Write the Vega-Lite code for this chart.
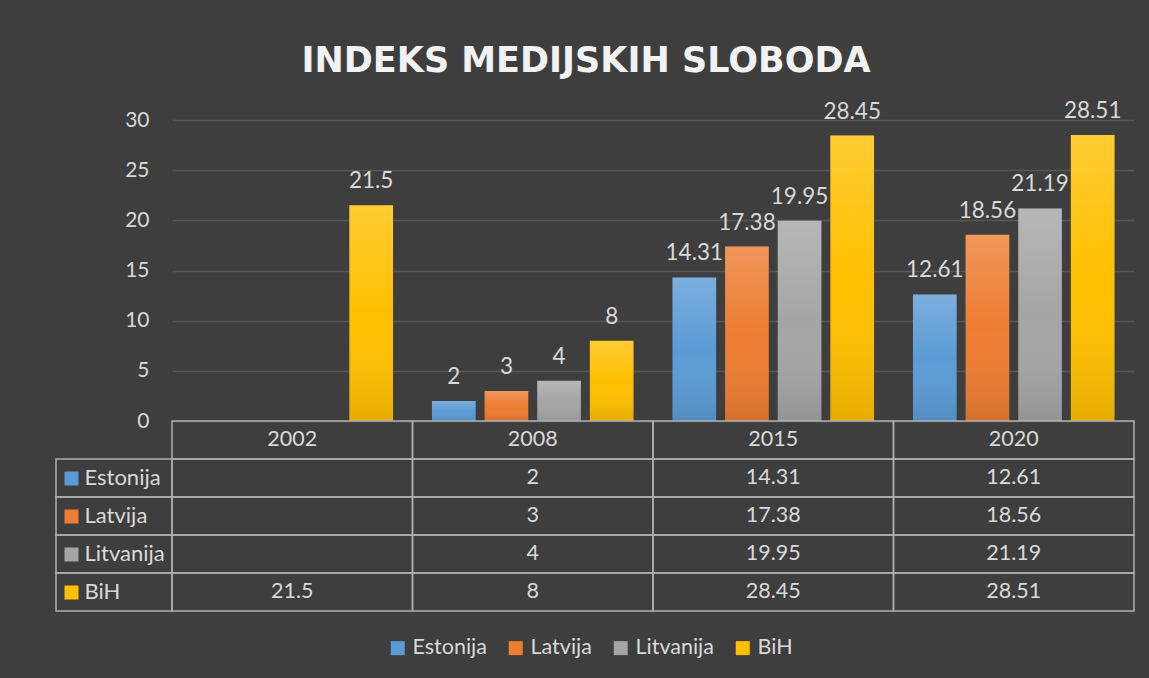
{
  "$schema": "https://vega.github.io/schema/vega-lite/v6.json",
  "background": "#3e3e3e",
  "padding": {"left": 55, "right": 15, "top": 43, "bottom": 24},
  "title": {
    "text": "INDEKS MEDIJSKIH SLOBODA",
    "font": "DejaVu Sans",
    "fontWeight": "bold",
    "fontSize": 35,
    "color": "#f2f2f2",
    "anchor": "middle",
    "dx": -9,
    "offset": 21
  },
  "datasets": {
    "bars": [
      {"year": "2002", "country": "Estonija", "value": null},
      {"year": "2002", "country": "Latvija", "value": null},
      {"year": "2002", "country": "Litvanija", "value": null},
      {"year": "2002", "country": "BiH", "value": 21.5},
      {"year": "2008", "country": "Estonija", "value": 2},
      {"year": "2008", "country": "Latvija", "value": 3},
      {"year": "2008", "country": "Litvanija", "value": 4},
      {"year": "2008", "country": "BiH", "value": 8},
      {"year": "2015", "country": "Estonija", "value": 14.31},
      {"year": "2015", "country": "Latvija", "value": 17.38},
      {"year": "2015", "country": "Litvanija", "value": 19.95},
      {"year": "2015", "country": "BiH", "value": 28.45},
      {"year": "2020", "country": "Estonija", "value": 12.61},
      {"year": "2020", "country": "Latvija", "value": 18.56},
      {"year": "2020", "country": "Litvanija", "value": 21.19},
      {"year": "2020", "country": "BiH", "value": 28.51}
    ],
    "years": [
      {"year": "2002"}, {"year": "2008"}, {"year": "2015"}, {"year": "2020"}
    ],
    "countries": [
      {"country": "Estonija"}, {"country": "Latvija"}, {"country": "Litvanija"}, {"country": "BiH"}
    ]
  },
  "bounds": "flush",
  "columns": 2,
  "spacing": 0,
  "align": "each",
  "concat": [
    {
      "width": 116,
      "height": 301,
      "data": {"name": "years"},
      "mark": {"type": "point", "opacity": 0},
      "encoding": {}
    },
    {
      "width": 962,
      "height": 301,
      "data": {"name": "bars"},
      "encoding": {
        "x": {"field": "year", "type": "nominal", "scale": {"domain": ["2002", "2008", "2015", "2020"], "paddingInner": 0, "paddingOuter": 0}, "axis": null},
        "xOffset": {"field": "country", "type": "nominal", "scale": {"domain": ["Estonija", "Latvija", "Litvanija", "BiH"], "paddingInner": 0.17, "paddingOuter": 0.37}},
        "y": {
          "field": "value", "type": "quantitative",
          "scale": {"domain": [0, 30], "nice": false},
          "axis": {"values": [0, 5, 10, 15, 20, 25, 30], "title": null, "domain": false, "ticks": false, "labelPadding": 23, "labelColor": "#d9d9d9", "labelFont": "Lato", "labelFontSize": 21, "gridColor": "#575757", "gridWidth": 1.5}
        }
      },
      "layer": [
        {
          "mark": {"type": "bar"},
          "encoding": {
            "color": {
              "field": "country", "type": "nominal",
              "scale": {"domain": ["Estonija", "Latvija", "Litvanija", "BiH"], "range": ["#5b9bd5", "#ed7d31", "#a5a5a5", "#ffc000"]},
              "legend": {
                "orient": "none", "direction": "horizontal", "legendX": 331, "legendY": 517,
                "title": null, "symbolType": "square", "symbolSize": 196, "symbolStrokeWidth": 0,
                "labelFont": "Lato", "labelFontSize": 21.5, "labelColor": "#d9d9d9", "labelOffset": 4,
                "columnPadding": 18, "padding": 0
              }
            }
          }
        },
        {
          "mark": {
            "type": "bar",
            "color": {"gradient": "linear", "x1": 0, "y1": 0, "x2": 0, "y2": 1, "stops": [
              {"offset": 0, "color": "rgba(255,255,255,0.2)"},
              {"offset": 0.5, "color": "rgba(255,255,255,0)"},
              {"offset": 1, "color": "rgba(0,0,0,0.1)"}
            ]}
          }
        },
        {
          "mark": {"type": "text", "baseline": "alphabetic", "dy": -17, "font": "Lato", "fontSize": 22.5, "color": "#d9d9d9"},
          "encoding": {"text": {"field": "value", "type": "quantitative"}}
        }
      ]
    },
    {
      "width": 116,
      "height": 190,
      "data": {"name": "countries"},
      "mark": {"type": "rect", "fillOpacity": 0, "stroke": "#b0b0b0", "strokeWidth": 1.5},
      "encoding": {
        "y": {
          "field": "country", "type": "nominal",
          "scale": {"domain": ["hdr", "Estonija", "Latvija", "Litvanija", "BiH"], "paddingInner": 0, "paddingOuter": 0},
          "axis": {
            "orient": "left", "offset": -22, "values": ["Estonija", "Latvija", "Litvanija", "BiH"],
            "title": null, "domain": false, "grid": false, "ticks": true, "tickSize": 14, "tickWidth": 14, "tickCap": "butt",
            "bandPosition": 0.5, "labelAlign": "left", "labelPadding": -20, "labelColor": "#d9d9d9", "labelFont": "Lato", "labelFontSize": 22,
            "tickColor": {
              "condition": [
                {"test": "datum.value === 'Estonija'", "value": "#5b9bd5"},
                {"test": "datum.value === 'Latvija'", "value": "#ed7d31"},
                {"test": "datum.value === 'Litvanija'", "value": "#a5a5a5"}
              ],
              "value": "#ffc000"
            }
          }
        }
      }
    },
    {
      "width": 962,
      "height": 190,
      "encoding": {
        "x": {"field": "year", "type": "nominal", "scale": {"domain": ["2002", "2008", "2015", "2020"], "paddingInner": 0, "paddingOuter": 0}, "axis": null}
      },
      "layer": [
        {
          "data": {"name": "bars"},
          "mark": {"type": "rect", "fillOpacity": 0, "stroke": "#b0b0b0", "strokeWidth": 1.5},
          "encoding": {"y": {"field": "country", "type": "nominal", "scale": {"domain": ["hdr", "Estonija", "Latvija", "Litvanija", "BiH"], "paddingInner": 0, "paddingOuter": 0}, "axis": null}}
        },
        {
          "data": {"name": "years"},
          "mark": {"type": "rect", "fillOpacity": 0, "stroke": "#b0b0b0", "strokeWidth": 1.5},
          "encoding": {"y": {"datum": "hdr", "type": "nominal"}}
        },
        {
          "data": {"name": "bars"},
          "transform": [{"filter": "datum.value != null"}],
          "mark": {"type": "text", "font": "Lato", "fontSize": 21.5, "color": "#d9d9d9"},
          "encoding": {"y": {"field": "country", "type": "nominal"}, "text": {"field": "value", "type": "quantitative"}}
        },
        {
          "data": {"name": "years"},
          "mark": {"type": "text", "font": "Lato", "fontSize": 21.5, "color": "#d9d9d9"},
          "encoding": {"y": {"datum": "hdr", "type": "nominal"}, "text": {"field": "year", "type": "nominal"}}
        }
      ]
    }
  ],
  "config": {
    "view": {"stroke": null},
    "font": "Lato"
  }
}
